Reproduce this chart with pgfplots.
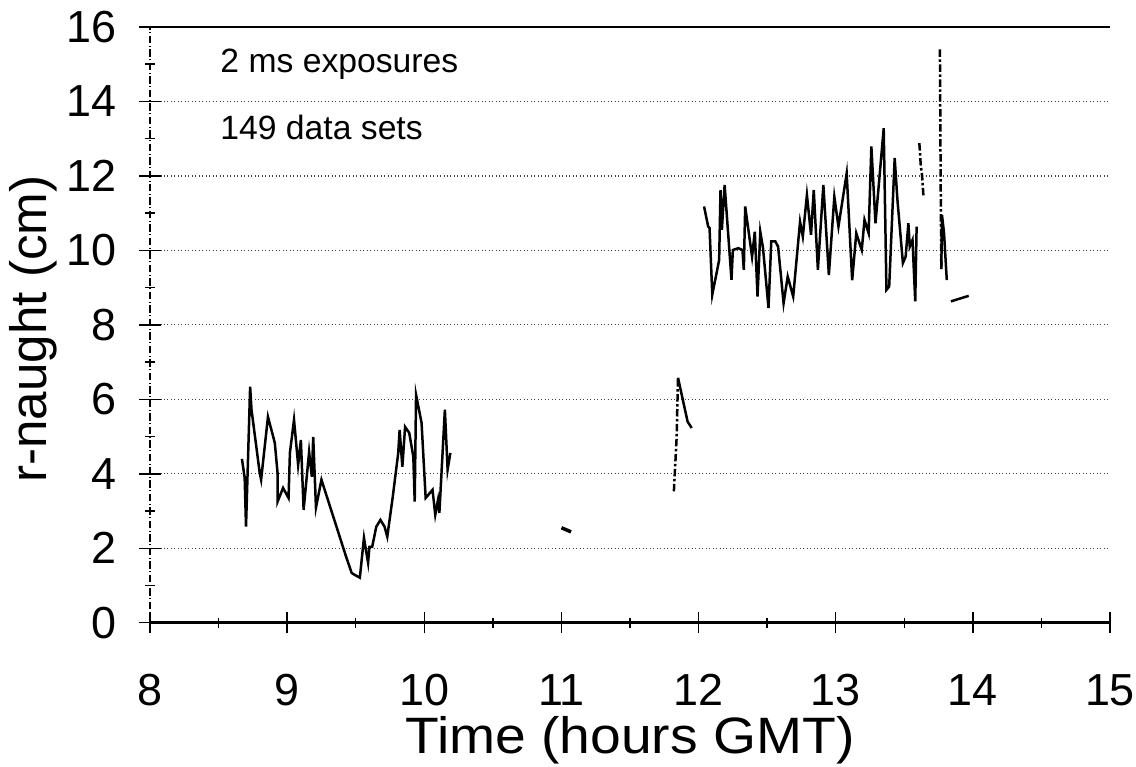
\documentclass[border=0pt]{standalone}
\usepackage{fontspec}
\setmainfont{Liberation Sans}
\usepackage{graphicx}
\usepackage{pgfplots}
\pgfplotsset{compat=1.18}
\begin{document}
\begin{tikzpicture}[font=\fontsize{18}{22}\selectfont]
\begin{axis}[
  scale only axis,
  width=13.52cm, height=8.39cm,
  xmin=8, xmax=15, ymin=0, ymax=16,
  axis x line=bottom, axis y line=left,
  axis line style={-},
  x axis line style={line width=1.1pt},
  y axis line style={densely dashdotted, line width=0.5pt},
  xtick={8,...,15}, ytick={0,2,...,16},
  minor xtick={8.5,9.5,...,14.5}, minor ytick={1,3,...,15},
  tick align=center,
  major tick length=0.3cm, minor tick length=0.14cm,
  tick style={black, line width=0.6pt},
  ymajorgrids, grid style={densely dotted, black!75, line width=0.5pt},
  /pgf/number format/assume math mode=true,
  xticklabel style={yshift=-0.45cm},
  yticklabel style={xshift=-0.2cm},
  xlabel={\scalebox{1.08}[1]{\fontsize{20.5}{24}\selectfont Time (hours GMT)}},
  ylabel={\fontsize{20.5}{24}\selectfont r-naught (cm)},
  xlabel style={at={(axis description cs:0.5,-0.157)}, anchor=north, inner sep=0pt},
  ylabel style={at={(axis description cs:-0.122,0.493)}, anchor=center, inner sep=0pt},
  clip=false,
]
\addplot[black, line width=1pt] coordinates {
(8.67,4.4) (8.69,3.9) (8.70,2.58) (8.73,6.34) (8.74,5.72) (8.80,4.02) (8.81,3.84)
(8.86,5.53) (8.91,4.83) (8.93,4.02) (8.93,3.25) (8.97,3.62) (9.01,3.35) (9.02,4.56)
(9.05,5.45) (9.08,4.24) (9.10,4.91) (9.12,3.03) (9.16,4.59) (9.18,3.92) (9.19,4.99)
(9.21,3.09) (9.25,3.84) (9.43,1.77) (9.47,1.34) (9.49,1.29) (9.53,1.21) (9.56,2.28)
(9.59,1.61) (9.60,2.04) (9.62,2.04) (9.65,2.58) (9.68,2.76) (9.71,2.58) (9.73,2.31)
(9.77,3.38) (9.81,4.56) (9.82,5.18) (9.84,4.19) (9.86,5.26) (9.89,5.10) (9.92,4.46)
(9.93,3.25) (9.94,6.12) (9.98,5.37) (10.01,3.35) (10.06,3.57) (10.08,2.90) (10.10,3.30)
(10.11,2.95) (10.15,5.72) (10.17,4.11) (10.19,4.56)
};
\addplot[black, line width=1.4pt] coordinates {(11.00,2.55) (11.07,2.44)};
\addplot[black, line width=1pt, densely dashdotted] coordinates {(11.82,3.53) (11.84,4.97) (11.85,6.58)};
\addplot[black, line width=1pt] coordinates {(11.85,6.58) (11.92,5.40) (11.95,5.23)};
\addplot[black, line width=1pt] coordinates {
(12.04,11.18) (12.07,10.64) (12.08,10.60) (12.10,8.81) (12.15,9.74) (12.16,11.62)
(12.17,10.55) (12.18,11.18) (12.19,11.76) (12.24,9.21) (12.25,10.01) (12.29,10.06)
(12.32,10.01) (12.33,9.48) (12.34,11.18) (12.39,9.83) (12.41,10.50) (12.43,8.76)
(12.45,10.50) (12.47,10.06) (12.51,8.45) (12.53,10.24) (12.56,10.24) (12.58,10.10)
(12.62,8.58) (12.65,9.30) (12.69,8.76) (12.74,10.77) (12.76,10.37) (12.79,11.49)
(12.82,10.42) (12.84,11.62) (12.87,9.48) (12.91,11.76) (12.95,9.34) (12.99,11.44)
(13.02,10.64) (13.08,12.07) (13.12,9.20) (13.15,10.46) (13.19,10.01) (13.21,10.82)
(13.24,10.46) (13.26,12.79) (13.29,10.73) (13.35,13.28) (13.37,8.94) (13.39,9.03)
(13.43,12.48) (13.45,11.36) (13.49,9.66) (13.51,9.83) (13.53,10.73) (13.54,10.10)
(13.56,10.28) (13.58,8.63) (13.59,10.64)
};
\addplot[black, line width=1pt, densely dashdotted] coordinates {(13.61,12.88) (13.62,12.3) (13.63,12.0) (13.64,11.44)};
\addplot[black, line width=1pt, densely dashdotted] coordinates {(13.76,15.4) (13.765,12.0) (13.77,9.5)};
\addplot[black, line width=1pt] coordinates {(13.77,9.5) (13.775,10.95) (13.79,10.46) (13.81,9.2)};
\addplot[black, line width=1pt] coordinates {(13.84,8.63) (13.97,8.78)};
\draw[line width=1.1pt] (rel axis cs:0,1) -- (rel axis cs:1,1);
\node[anchor=west, font=\fontsize{13.5}{16}\selectfont, inner sep=0pt] at (axis cs:8.51,15.0) {2 ms exposures};
\node[anchor=west, font=\fontsize{13.5}{16}\selectfont, inner sep=0pt] at (axis cs:8.51,13.3) {149 data sets};
\end{axis}
\pgfresetboundingbox
\path (-2.113cm,-2.028cm) rectangle (13.886cm,8.77cm);
\end{tikzpicture}
\end{document}
